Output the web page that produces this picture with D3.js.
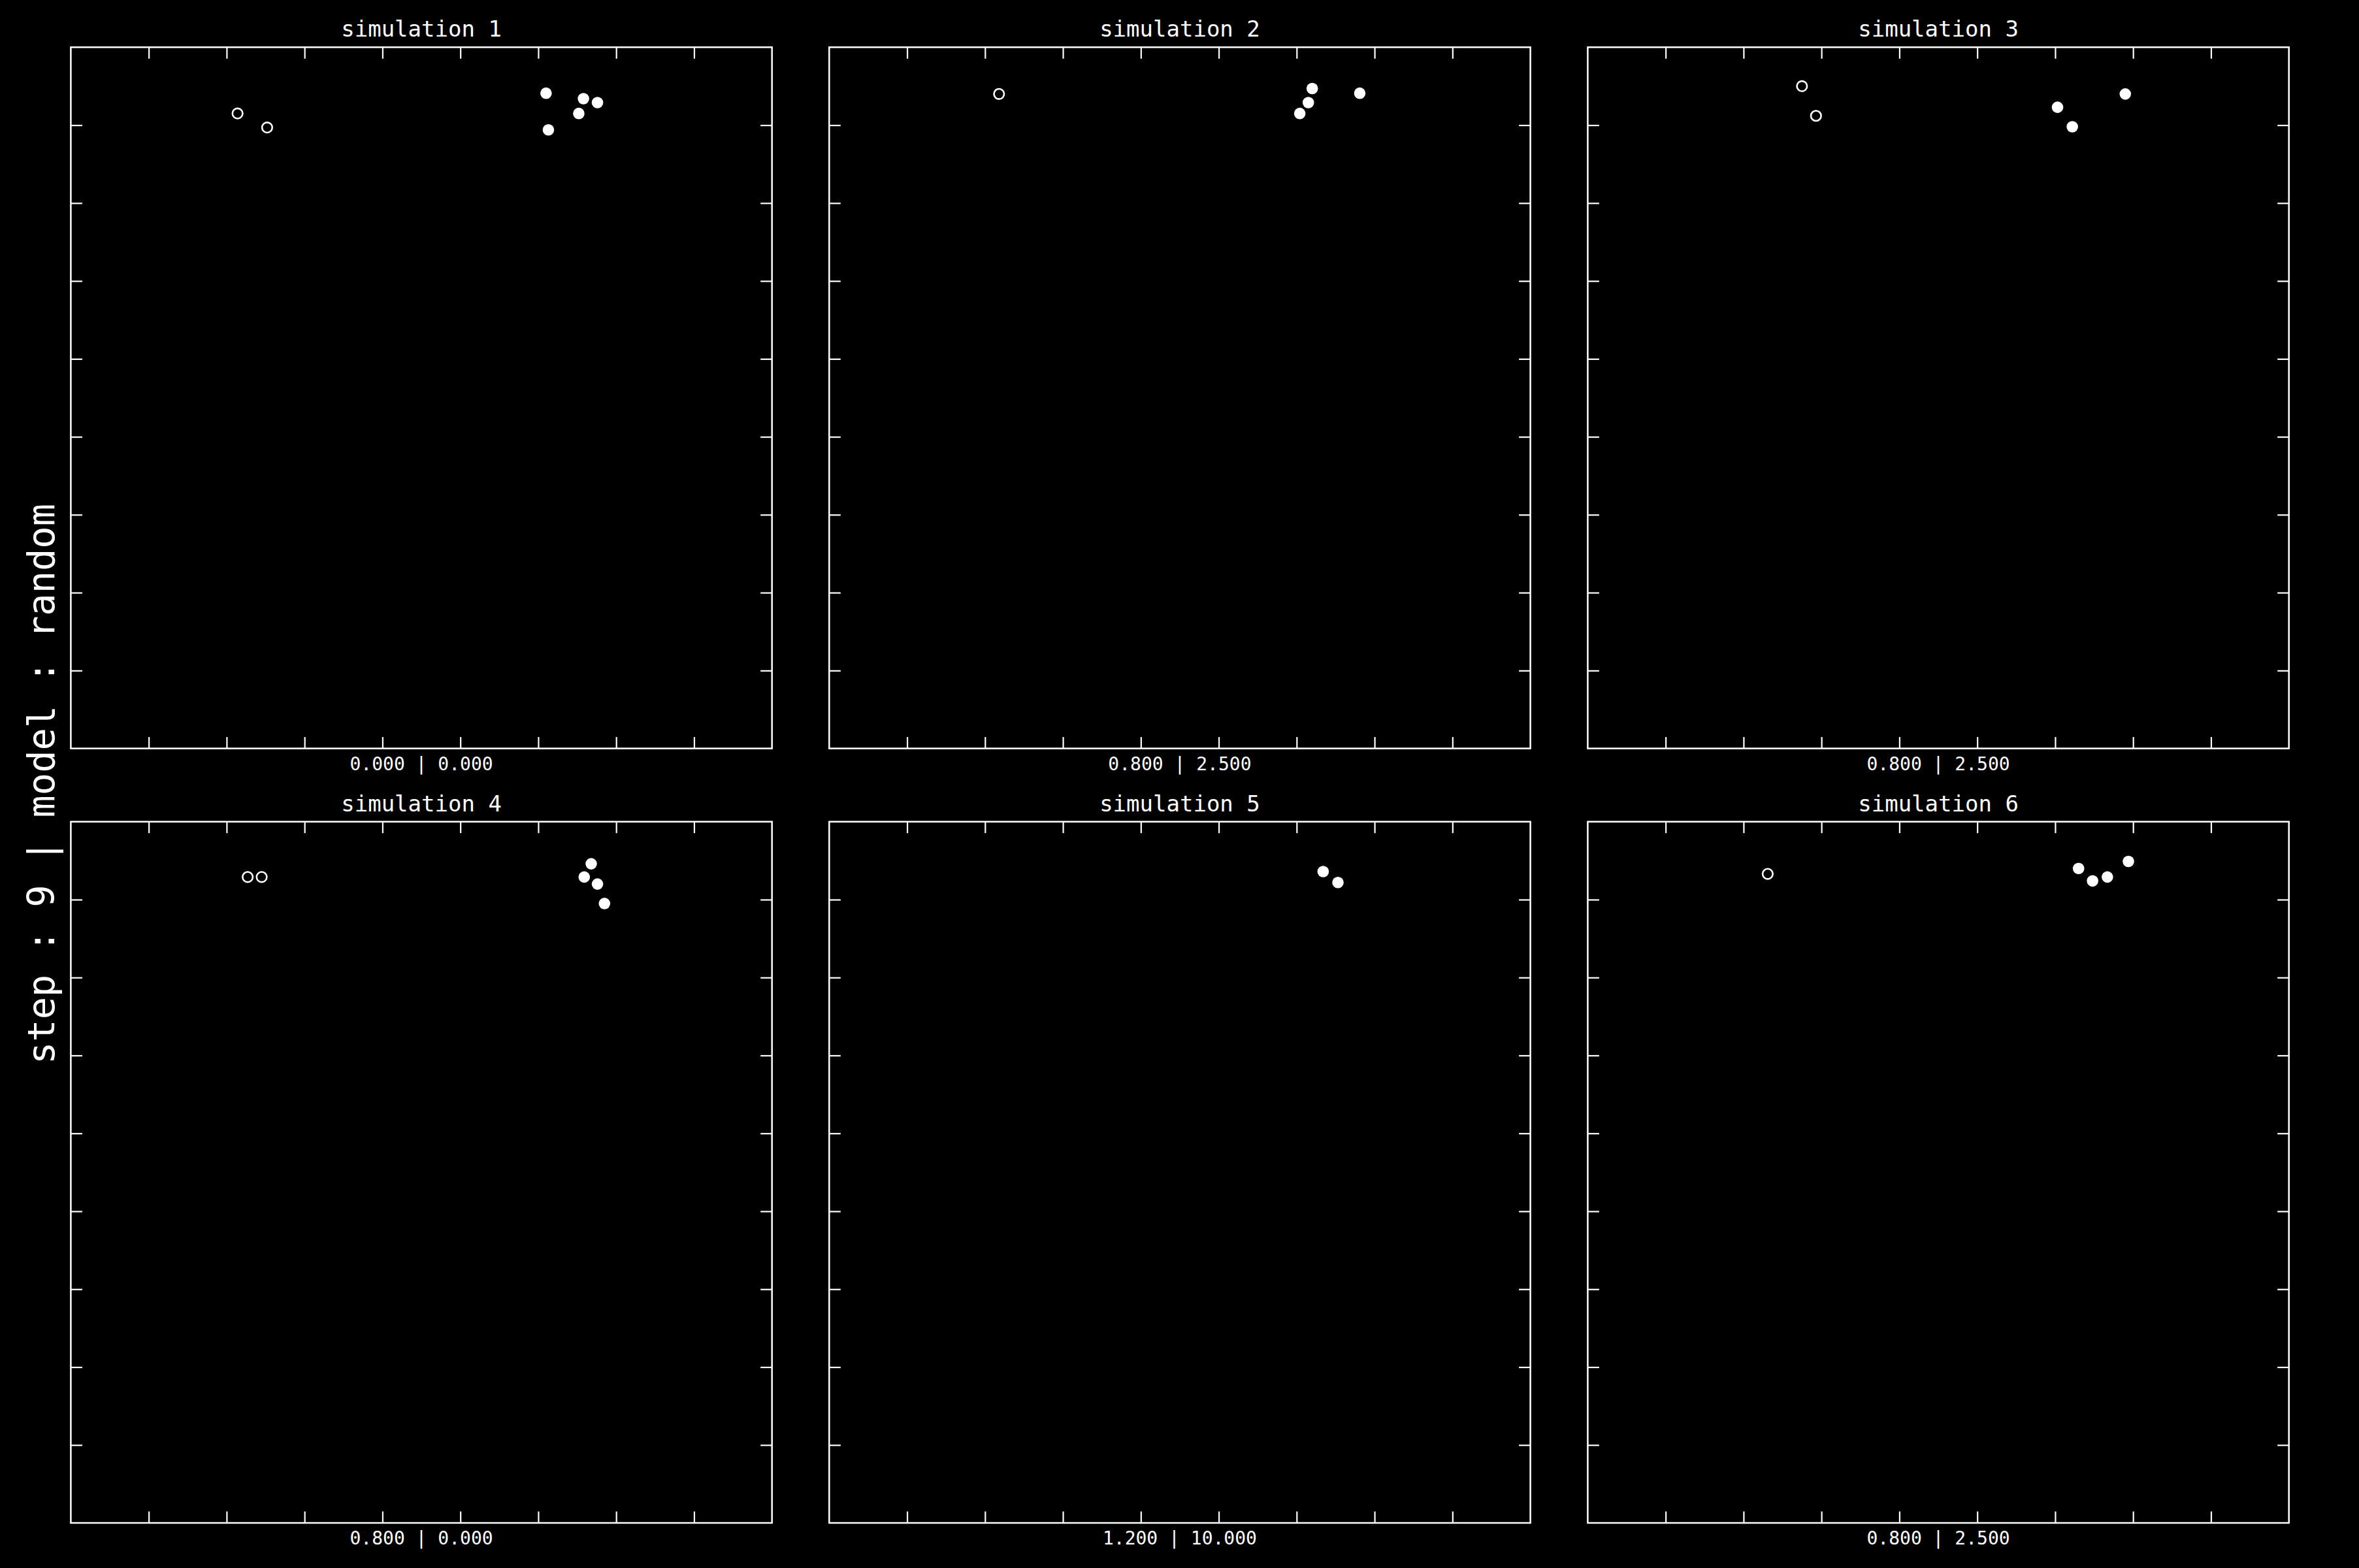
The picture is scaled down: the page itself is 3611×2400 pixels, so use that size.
<!DOCTYPE html>
<html>
<head>
<meta charset="utf-8">
<script src="https://cdn.jsdelivr.net/npm/d3@7"></script>
<style>
html,body{margin:0;padding:0;background:#000;}
svg{display:block;}
text{font-family:"DejaVu Sans Mono",monospace;fill:#fff;}
</style>
</head>
<body>
<svg id="chart" width="3611" height="2400"></svg>
<script>
// ---------- data ----------
const titles = ["simulation 1","simulation 2","simulation 3","simulation 4","simulation 5","simulation 6"];
const xLabels = ["0.000 | 0.000","0.800 | 2.500","0.800 | 2.500","0.800 | 0.000","1.200 | 10.000","0.800 | 2.500"];
const yLabel = "step : 9 | model : random";
const tickValues = [1,2,3,4,5,6,7,8];

const sim1Open   = [[2.14,8.15],[2.52,7.97]];
const sim1Filled = [[6.10,8.41],[6.58,8.34],[6.76,8.29],[6.52,8.15],[6.13,7.94]];
const sim2Open   = [[2.18,8.40]];
const sim2Filled = [[6.20,8.47],[6.81,8.41],[6.15,8.29],[6.04,8.15]];
const sim3Open   = [[2.75,8.50],[2.93,8.12]];
const sim3Filled = [[6.90,8.40],[6.03,8.23],[6.22,7.98]];
const sim4Open   = [[2.27,8.29],[2.45,8.29]];
const sim4Filled = [[6.68,8.46],[6.59,8.29],[6.76,8.20],[6.85,7.95]];
const sim5Open   = [];
const sim5Filled = [[6.34,8.36],[6.53,8.22]];
const sim6Open   = [[2.31,8.33]];
const sim6Filled = [[6.30,8.40],[6.94,8.49],[6.67,8.29],[6.48,8.24]];

const openSets = [sim1Open,sim2Open,sim3Open,sim4Open,sim5Open,sim6Open];
const filledSets = [sim1Filled,sim2Filled,sim3Filled,sim4Filled,sim5Filled,sim6Filled];

// ---------- layout ----------
const svg = d3.select("#chart");
svg.append("rect").attr("width",3611).attr("height",2400).attr("fill","#000");

const colLefts = [108.4, 1269.3, 2430.4];
const rowTops = [72.3, 1257.7];
const size = 1073.3;
const tick = 17.5;

const x = d3.scaleLinear().domain([0,9]).range([0,size]);
const y = d3.scaleLinear().domain([0,9]).range([size,0]);

titles.forEach((t,i)=>{
  const col = i%3, row = Math.floor(i/3);
  const g = svg.append("g").attr("transform",`translate(${colLefts[col]},${rowTops[row]})`);

  const styleAxis = sel => {
    sel.select(".domain").remove();
    sel.selectAll(".tick line").attr("stroke","#fff").attr("stroke-width",2.2);
    sel.selectAll(".tick text").remove();
  };
  g.append("g").call(d3.axisTop(x).tickValues(tickValues).tickSize(-tick)).call(styleAxis);
  g.append("g").attr("transform",`translate(0,${size})`).call(d3.axisBottom(x).tickValues(tickValues).tickSize(-tick)).call(styleAxis);
  g.append("g").call(d3.axisLeft(y).tickValues(tickValues).tickSize(-tick)).call(styleAxis);
  g.append("g").attr("transform",`translate(${size},0)`).call(d3.axisRight(y).tickValues(tickValues).tickSize(-tick)).call(styleAxis);

  g.append("rect").attr("x",0).attr("y",0).attr("width",size).attr("height",size)
    .attr("fill","none").attr("stroke","#fff").attr("stroke-width",2.5);

  g.selectAll("circle.open").data(openSets[i]).join("circle")
    .attr("class","open")
    .attr("cx",d=>x(d[0])).attr("cy",d=>y(d[1])).attr("r",7.8)
    .attr("fill","none").attr("stroke","#fff").attr("stroke-width",2.6);
  g.selectAll("circle.filled").data(filledSets[i]).join("circle")
    .attr("class","filled")
    .attr("cx",d=>x(d[0])).attr("cy",d=>y(d[1])).attr("r",8.8)
    .attr("fill","#fff");

  g.append("text").attr("x",size/2).attr("y",-16)
    .attr("text-anchor","middle").attr("font-size",34).text(t);
  g.append("text").attr("x",size/2).attr("y",size+33)
    .attr("text-anchor","middle").attr("font-size",28).text(xLabels[i]);
});

svg.append("text")
  .attr("transform","translate(83,1200) rotate(-90)")
  .attr("text-anchor","middle").attr("font-size",57).text(yLabel);
</script>
</body>
</html>
